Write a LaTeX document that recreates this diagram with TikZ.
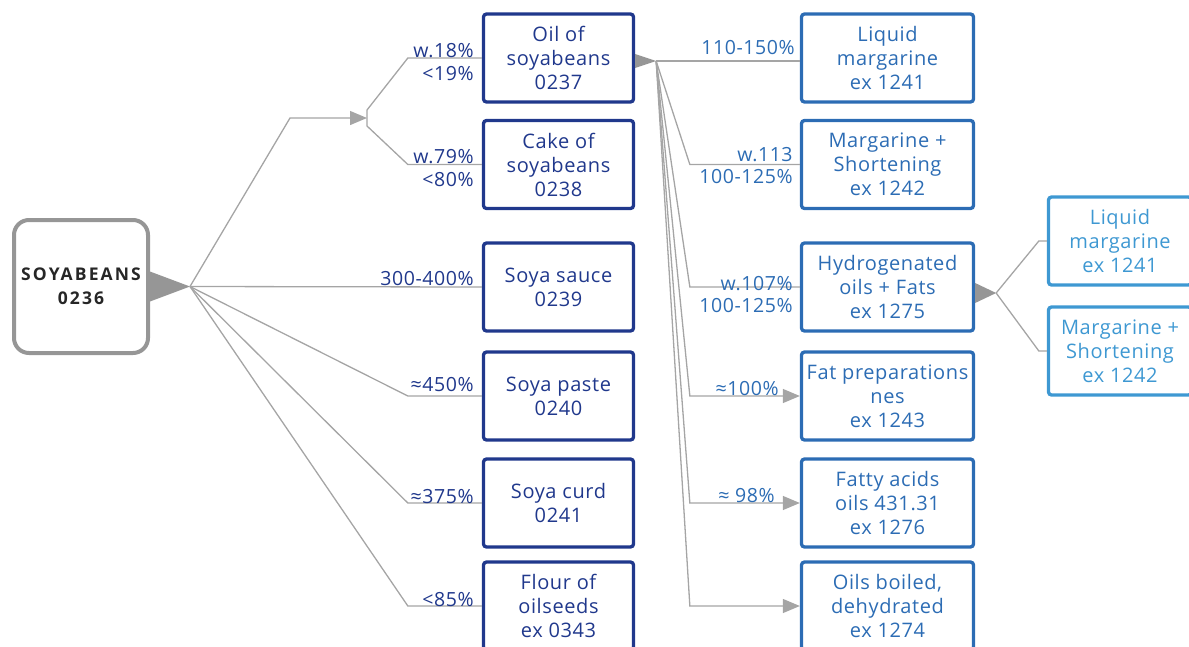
\documentclass[tikz,border=0pt]{standalone}
\usepackage{fontspec}
\setmainfont{Open Sans}[LetterSpace=3]
\newfontfamily\soyfont{Open Sans}[LetterSpace=12]
\usetikzlibrary{arrows.meta,calc}
\definecolor{navy}{RGB}{32,56,140}
\definecolor{midblue}{RGB}{44,108,180}
\definecolor{liteblue}{RGB}{62,152,210}
\definecolor{soygray}{RGB}{150,150,150}
\definecolor{linegray}{RGB}{165,165,165}
\definecolor{headgray}{RGB}{150,150,150}
\begin{document}
\begin{tikzpicture}[x=1pt,y=-1pt,
    soybox/.style={draw=soygray,line width=4pt,rounded corners=15pt,minimum width=134pt,minimum height=133pt,align=center,text=black!85,font=\soyfont\fontsize{17.5}{24}\selectfont\bfseries},
    box/.style={line width=3.3pt,rounded corners=3pt,minimum height=88pt,align=center,font=\fontsize{20}{24}\selectfont},
    boxa/.style={box,draw=navy,text=navy,minimum width=150pt},
    boxb/.style={box,draw=midblue,text=midblue,minimum width=172pt},
    boxc/.style={box,draw=liteblue,text=liteblue,minimum width=143pt},
    con/.style={draw=linegray,line width=1.3pt},
    head/.style={fill=headgray},
    tip/.style={-{Triangle[length=17pt,width=14pt]},shorten >=0pt},
    lbla/.style={text=navy,inner sep=1pt,align=right,font=\fontsize{19.5}{23}\selectfont},
    lblb/.style={text=midblue,inner sep=1pt,align=right,font=\fontsize{19.5}{22}\selectfont}]
  \useasboundingbox (0,0) rectangle (1189,646);
  \clip (0,0) rectangle (1189,646);

  \node[soybox] (soy) at (81,286.5) {SOYABEANS\\0236};

  \node[boxa] (oil) at (558.5,58) {Oil of\\soyabeans\\0237};
  \node[boxa] (cake) at (558.5,164.5) {Cake of\\soyabeans\\0238};
  \node[boxa] (sauce) at (558.5,287) {Soya sauce\\0239};
  \node[boxa] (paste) at (558.5,396) {Soya paste\\0240};
  \node[boxa] (curd) at (558.5,503) {Soya curd\\0241};
  \node[boxa] (flour) at (558.5,606) {Flour of\\oilseeds\\ex 0343};

  \node[boxb] (liq) at (887.5,58) {Liquid\\margarine\\ex 1241};
  \node[boxb] (marg) at (887.5,164.5) {Margarine +\\Shortening\\ex 1242};
  \node[boxb] (hyd) at (887.5,287) {Hydrogenated\\oils + Fats\\ex 1275};
  \node[boxb] (fat) at (887.5,396) {Fat preparations\\nes\\ex 1243};
  \node[boxb] (acid) at (887.5,503) {Fatty acids\\oils 431.31\\ex 1276};
  \node[boxb] (boil) at (887.5,606) {Oils boiled,\\dehydrated\\ex 1274};

  \node[boxc] (liqb) at (1120,241) {Liquid\\margarine\\ex 1241};
  \node[boxc] (margb) at (1120,351) {Margarine +\\Shortening\\ex 1242};

  \coordinate (soytip) at ([xshift=40pt]soy.east);
  \coordinate (oiltip) at ([xshift=21pt,yshift=-3pt]oil.east);
  \coordinate (hydtip) at ([xshift=21pt,yshift=-6pt]hyd.east);
  \coordinate (fork) at (367,118);

  \fill[head] ([yshift=15pt]soy.east) -- (soytip) -- ([yshift=-15pt]soy.east) -- cycle;
  \fill[head] ([yshift=4pt]oil.east) -- (oiltip) -- ([yshift=-10pt]oil.east) -- cycle;
  \fill[head] ([yshift=4pt]hyd.east) -- (hydtip) -- ([yshift=-16pt]hyd.east) -- cycle;

  \draw[con,tip] (soytip) -- ([xshift=-77pt]fork) -- (fork);
  \draw[con] (oil.west) -- ++(-74,0) -- ([yshift=8pt]fork) -- ([yshift=-8pt]fork) -- ($(cake.west)+(-74,0)$) -- (cake.west);
  \draw[con] (soytip) -- (sauce.west);
  \draw[con] (soytip) -- ([xshift=-74pt]paste.west) -- (paste.west);
  \draw[con] (soytip) -- ([xshift=-74pt]curd.west) -- (curd.west);
  \draw[con] (soytip) -- ([xshift=-74pt]flour.west) -- (flour.west);

  \draw[con] (oiltip) -- (liq.west |- oiltip);
  \draw[con] (oiltip) -- ([xshift=-110pt]marg.west) -- (marg.west);
  \draw[con] (oiltip) -- ([xshift=-110pt]hyd.west) -- (hyd.west);
  \draw[con,tip] (oiltip) -- ([xshift=-110pt]fat.west) -- (fat.west);
  \draw[con,tip] (oiltip) -- ([xshift=-110pt]acid.west) -- (acid.west);
  \draw[con,tip] (oiltip) -- ([xshift=-110pt]boil.west) -- (boil.west);

  \draw[con] (hydtip) -- ([xshift=-8pt]liqb.west) -- (liqb.west);
  \draw[con] (hydtip) -- ([xshift=-8pt]margb.west) -- (margb.west);

  \node[lbla,anchor=east] at ([xshift=-7pt,yshift=-4pt]oil.west) {w.18\%\\<19\%};
  \node[lbla,anchor=east] at ([xshift=-7pt,yshift=-4pt]cake.west) {w.79\%\\<80\%};
  \node[lbla,anchor=south east] at ([xshift=-7pt]sauce.west) {300-400\%};
  \node[lbla,anchor=south east] at ([xshift=-7pt,yshift=3pt]paste.west) {≈450\%};
  \node[lbla,anchor=south east] at ([xshift=-7pt,yshift=-2pt]curd.west) {≈375\%};
  \node[lbla,anchor=south east] at ([xshift=-7pt,yshift=-2pt]flour.west) {<85\%};

  \node[lblb,anchor=south east] at ([xshift=-4pt,yshift=2pt]liq.west) {110-150\%};
  \node[lblb,anchor=east] at ([xshift=-6pt,yshift=-1pt]marg.west) {w.113\\100-125\%};
  \node[lblb,anchor=east] at ([xshift=-6pt,yshift=-8pt]hyd.west) {w.107\%\\100-125\%};
  \node[lblb,anchor=south east] at ([xshift=-20pt,yshift=-1pt]fat.west) {≈100\%};
  \node[lblb,anchor=south east] at ([xshift=-24pt,yshift=-1pt]acid.west) {≈ 98\%};
\end{tikzpicture}
\end{document}
